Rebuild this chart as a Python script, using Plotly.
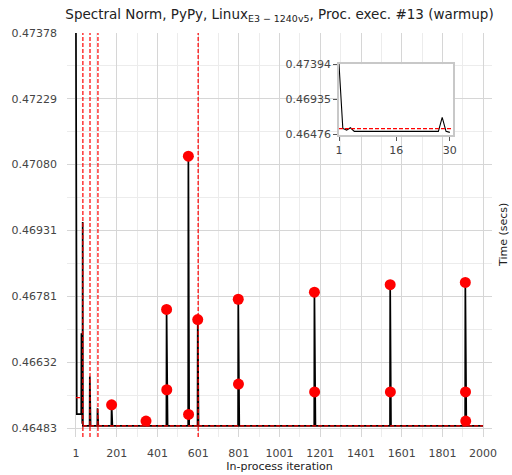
import plotly.graph_objects as go

# ---- data -------------------------------------------------------------
n_iter = 2000

# first iterations (warmup region), read one by one
early_iters = list(range(1, 35))
early_vals = [0.47394, 0.46554, 0.46532, 0.46562] + [0.46515] * 23 + \
             [0.46698, 0.46515, 0.46502, 0.46495, 0.46495, 0.46495, 0.46950]

# steady-state level after the warmup
steady_level = 0.46488

# isolated spikes in the steady state (no outlier marker)
spike_iters = [69, 107]
spike_vals = [0.46600, 0.46528]

# outliers (red circles)
outlier_iters = [176, 345, 446, 447, 553, 554, 599, 798, 799,
                 1172, 1173, 1544, 1545, 1913, 1914, 1915]
outlier_vals = [0.46536, 0.46499, 0.46752, 0.46570, 0.47099, 0.46514, 0.46729,
                0.46775, 0.46583, 0.46791, 0.46565, 0.46808, 0.46565,
                0.46813, 0.46565, 0.46499]

# changepoints and segment means
changepoints = [35, 70, 109, 601]
segment_bounds = [1, 35, 70, 109, 601, 2000]
segment_means = [0.46552, 0.46488, 0.46488, 0.46488, 0.46488]

y_tick_labels = ["0.46483", "0.46632", "0.46781", "0.46931", "0.47080", "0.47229", "0.47378"]
x_tick_vals = [1, 201, 401, 601, 801, 1001, 1201, 1401, 1601, 1801, 2000]
x_minor_vals = [101, 301, 501, 701, 901, 1101, 1301, 1501, 1701, 1901]

inset_last = 30
inset_y_labels = ["0.46476", "0.46935", "0.47394"]
inset_x_ticks = [1, 16, 30]

# ---- build the series -------------------------------------------------
iters = list(range(1, n_iter + 1))
times = [steady_level] * n_iter
for i, v in zip(early_iters, early_vals):
    times[i - 1] = v
for i, v in zip(spike_iters, spike_vals):
    times[i - 1] = v
for i, v in zip(outlier_iters, outlier_vals):
    times[i - 1] = v

y_tick_vals = [float(t) for t in y_tick_labels]
y_minor_vals = [(a + b) / 2 for a, b in zip(y_tick_vals[:-1], y_tick_vals[1:])]

font_family = "DejaVu Sans, Verdana, sans-serif"
tick_color = "#444444"
text_color = "#222222"
major_grid = "#d6d6d6"
minor_grid = "#ececec"
red_dash = "4px,2px"

fig = go.Figure()

# main time series
fig.add_trace(go.Scatter(x=iters, y=times, mode="lines",
                         line=dict(color="black", width=1.7),
                         xaxis="x", yaxis="y", showlegend=False))

# segment means (red dashed horizontal)
for k, m in enumerate(segment_means):
    fig.add_trace(go.Scatter(x=[segment_bounds[k], segment_bounds[k + 1]], y=[m, m],
                             mode="lines", line=dict(color="red", width=1.2, dash=red_dash),
                             xaxis="x", yaxis="y", showlegend=False))

# outlier markers
fig.add_trace(go.Scatter(x=outlier_iters, y=outlier_vals, mode="markers",
                         marker=dict(color="red", size=11, line=dict(width=0)),
                         xaxis="x", yaxis="y", showlegend=False))

# inset: first iterations
fig.add_trace(go.Scatter(x=iters[:inset_last], y=times[:inset_last], mode="lines",
                         line=dict(color="black", width=1.1),
                         xaxis="x2", yaxis="y2", showlegend=False))
fig.add_trace(go.Scatter(x=[1, 31], y=[segment_means[0]] * 2, mode="lines",
                         line=dict(color="red", width=1.2, dash=red_dash),
                         xaxis="x2", yaxis="y2", showlegend=False))

# changepoints (red dashed vertical)
shapes = [dict(type="line", xref="x", yref="paper", x0=c, x1=c, y0=0, y1=1,
               line=dict(color="red", width=1.2, dash=red_dash), layer="above")
          for c in changepoints]

fig.update_layout(
    width=512, height=475,
    margin=dict(l=67, r=20, t=33, b=38),
    paper_bgcolor="white", plot_bgcolor="white",
    font=dict(family=font_family, size=11, color=tick_color),
    title=dict(text="Spectral Norm, PyPy, Linux<sub>E3 \u2212 1240v5</sub>, Proc. exec. #13 (warmup)",
               x=0.5, xref="paper", xanchor="center", y=0.970, yanchor="middle",
               font=dict(family=font_family, size=13.5, color=text_color)),
    xaxis=dict(domain=[0, 1], range=[-43, 2044], tickvals=x_tick_vals,
               ticktext=[str(v) for v in x_tick_vals], automargin=False,
               showgrid=True, gridcolor=major_grid, gridwidth=1, zeroline=False,
               showline=False, ticks="", ticklabelstandoff=8,
               minor=dict(tickvals=x_minor_vals, showgrid=True, gridcolor=minor_grid,
                          gridwidth=1, ticks=""),
               title=dict(text="In-process iteration", standoff=3,
                          font=dict(size=11, color=text_color))),
    yaxis=dict(domain=[0, 1], range=[0.46463, 0.47378], tickvals=y_tick_vals,
               ticktext=y_tick_labels, automargin=False,
               showgrid=True, gridcolor=major_grid, gridwidth=1, zeroline=False,
               showline=False, ticks="", ticklabelstandoff=9,
               minor=dict(tickvals=y_minor_vals, showgrid=True, gridcolor=minor_grid,
                          gridwidth=1, ticks="")),
    xaxis2=dict(domain=[0.64, 0.908], anchor="y2", range=[1, 30.8], automargin=False,
                tickvals=inset_x_ticks, ticktext=[str(v) for v in inset_x_ticks],
                showgrid=False, zeroline=False, showline=True, linecolor="#c8c8c8",
                linewidth=1.5, mirror=True, ticks="outside", ticklen=4,
                tickcolor="#555555", tickfont=dict(size=11)),
    yaxis2=dict(domain=[0.748, 0.923], anchor="x2", range=[0.46470, 0.47394],
                automargin=False,
                tickvals=[float(t) for t in inset_y_labels], ticktext=inset_y_labels,
                showgrid=False, zeroline=False, showline=True, linecolor="#c8c8c8",
                linewidth=1.5, mirror=True, ticks="outside", ticklen=4,
                tickcolor="#555555", tickfont=dict(size=11)),
    shapes=shapes,
    annotations=[dict(text="Time (secs)", xref="paper", yref="paper",
                      x=1.0, xshift=11, y=0.5, textangle=-90, showarrow=False,
                      xanchor="center", yanchor="middle",
                      font=dict(family=font_family, size=11, color=text_color))],
)

fig.write_html("out.html")
